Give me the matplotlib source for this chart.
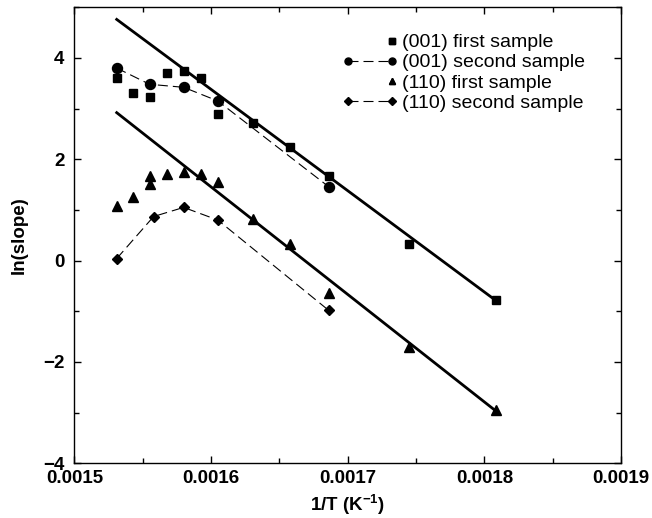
import numpy as np
import matplotlib
matplotlib.use("Agg")
import matplotlib.pyplot as plt
from matplotlib.legend_handler import HandlerLine2D
from matplotlib.ticker import MultipleLocator

plt.rcParams["font.family"] = ["Liberation Sans", "DejaVu Sans"]
plt.rcParams["mathtext.fontset"] = "custom"
plt.rcParams["mathtext.rm"] = "Liberation Sans:bold"
plt.rcParams["mathtext.bf"] = "Liberation Sans:bold"
plt.rcParams["mathtext.default"] = "bf"

# (001) first sample
x_001_first = [0.001531, 0.001543, 0.001555, 0.001568, 0.001580, 0.0015925,
               0.001605, 0.001631, 0.001658, 0.001686, 0.001745, 0.0018085]
y_001_first = [3.60, 3.30, 3.22, 3.71, 3.75, 3.61,
               2.89, 2.72, 2.25, 1.66, 0.33, -0.77]

# (001) second sample
x_001_second = [0.001531, 0.001555, 0.001580, 0.001605, 0.001686]
y_001_second = [3.80, 3.48, 3.42, 3.15, 1.46]

# (110) first sample
x_110_first = [0.001531, 0.001543, 0.001555, 0.001555, 0.001568, 0.001580,
               0.0015925, 0.001605, 0.001631, 0.001658, 0.001686, 0.001745,
               0.0018085]
y_110_first = [1.07, 1.26, 1.52, 1.67, 1.71, 1.74,
               1.71, 1.56, 0.82, 0.33, -0.63, -1.70, -2.94]

# (110) second sample
x_110_second = [0.001531, 0.001558, 0.001580, 0.001605, 0.001686]
y_110_second = [0.04, 0.87, 1.05, 0.80, -0.98]

# fitted straight lines (end points)
fit_x = [0.001531, 0.0018085]
fit_upper = [4.76, -0.79]
fit_lower = [2.92, -2.97]


class RightMarkerHandler(HandlerLine2D):
    # gnuplot-style key: single marker at the right end of the sample
    def get_xdata(self, legend, xdescent, ydescent, width, height, fontsize):
        pad = self._marker_pad * fontsize
        xdata = [-xdescent + width - pad, -xdescent + width - pad]
        return xdata, [-xdescent + width - pad]


fig = plt.figure(figsize=(6.52, 5.18), dpi=100)
ax = fig.add_axes([0.114, 0.1056, 0.8386, 0.8804])

ax.plot(fit_x, fit_upper, color="black", lw=2.0)
ax.plot(fit_x, fit_lower, color="black", lw=2.0)

sq, = ax.plot(x_001_first, y_001_first, ls="none", marker="s", ms=5.5,
              color="black", label="(001) first sample")
ci, = ax.plot(x_001_second, y_001_second, ls=(0, (9, 4.5)), lw=0.8,
              marker="o", ms=7.2, color="black", label="(001) second sample")
tr, = ax.plot(x_110_first, y_110_first, ls="none", marker="^", ms=6.5,
              color="black", label="(110) first sample")
di, = ax.plot(x_110_second, y_110_second, ls=(0, (9, 4.5)), lw=0.8,
              marker="D", ms=5.3, color="black", label="(110) second sample")

ax.set_xlim(0.0015, 0.0019)
ax.set_ylim(-4, 5)
ax.xaxis.set_minor_locator(MultipleLocator(0.00005))
ax.yaxis.set_minor_locator(MultipleLocator(1))
ax.set_yticks([-4, -2, 0, 2, 4])
ax.set_xticks([0.0015, 0.0016, 0.0017, 0.0018, 0.0019])
ax.set_xticklabels(["0.0015", "0.0016", "0.0017", "0.0018", "0.0019"])

ax.tick_params(which="both", direction="in", top=True, right=True, width=1)
ax.tick_params(which="major", length=5)
ax.tick_params(which="minor", length=3.5)
ax.tick_params(axis="x", pad=5)
ax.tick_params(axis="y", pad=7)
for lab in ax.get_xticklabels() + ax.get_yticklabels():
    lab.set_fontsize(13.5)
    lab.set_fontweight("bold")
for sp in ax.spines.values():
    sp.set_linewidth(1.0)

ax.set_xlabel(r"1/T (K$^{-1}$)", fontsize=13.5, fontweight="bold", labelpad=4)
ax.set_ylabel("ln(slope)", fontsize=13.5, fontweight="bold", labelpad=11)

ax.legend(handles=[sq, ci, tr, di],
          handler_map={sq: RightMarkerHandler(), tr: RightMarkerHandler()},
          loc="upper left", bbox_to_anchor=(0.489, 0.942), frameon=False,
          fontsize=14, numpoints=2, markerscale=0.7, handlelength=2.9,
          handletextpad=0.18, labelspacing=0.13, borderpad=0, borderaxespad=0)

fig.savefig("out.png", dpi=100)
